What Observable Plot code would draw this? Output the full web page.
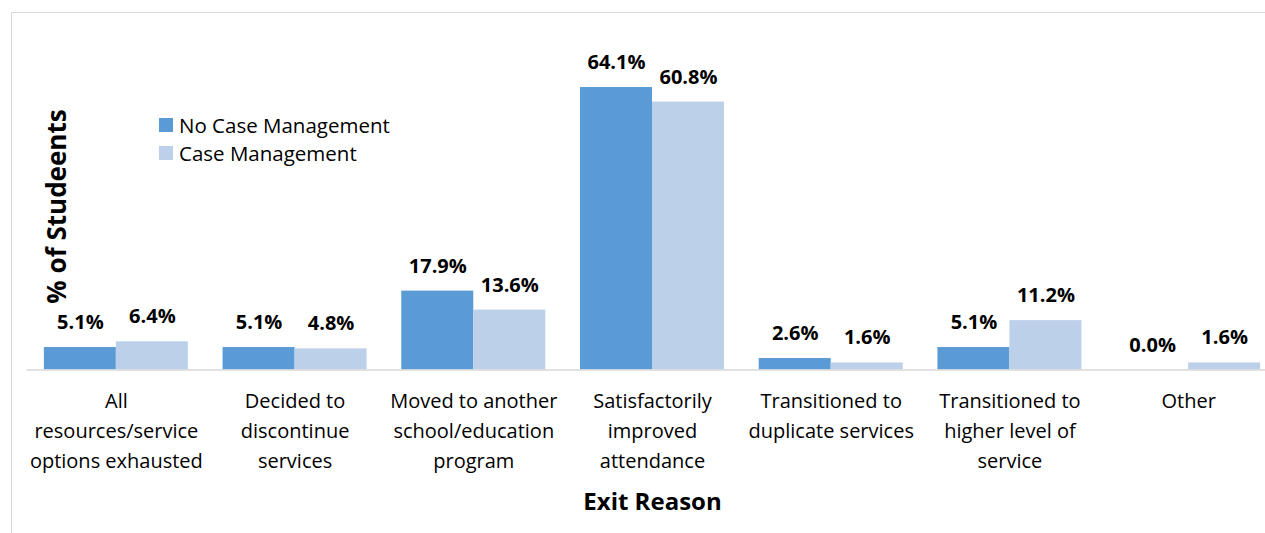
<!DOCTYPE html>
<html>
<head>
<meta charset="utf-8">
<script src="https://cdn.jsdelivr.net/npm/d3@7"></script>
<script src="https://cdn.jsdelivr.net/npm/@observablehq/plot@0.6"></script>
<style>
  html, body { margin: 0; padding: 0; background: white; overflow: hidden; }
  #wrap { position: relative; width: 1265px; height: 533px; overflow: hidden; font-family: "Open Sans", sans-serif; }
  #wrap svg { max-width: none !important; display: block; }
  #frame { position: absolute; left: 10.5px; top: 11.5px; width: 1400px; height: 800px; border: 1.5px solid #d9d9d9; pointer-events: none; }
  #legend { position: absolute; left: 159px; top: 111px; font-size: 20.5px; color: #000; }
  #legend .row { display: flex; align-items: center; height: 28px; }
  #legend .sw { width: 14px; height: 14px; margin-right: 6px; }
</style>
</head>
<body>
<div id="wrap"><div id="frame"></div><div id="legend"></div></div>
<script>
const categories = [
  "All resources/service options exhausted",
  "Decided to discontinue services",
  "Moved to another school/education program",
  "Satisfactorily improved attendance",
  "Transitioned to duplicate services",
  "Transitioned to higher level of service",
  "Other"
];
const tickLabels = [
  "All\nresources/service\noptions exhausted",
  "Decided to\ndiscontinue\nservices",
  "Moved to another\nschool/education\nprogram",
  "Satisfactorily\nimproved\nattendance",
  "Transitioned to\nduplicate services",
  "Transitioned to\nhigher level of\nservice",
  "Other"
];
const seriesNames = ["No Case Management", "Case Management"];
const seriesColors = ["#5b9bd5", "#bdd0e9"];
const noCaseManagement = [5.1, 5.1, 17.9, 64.1, 2.6, 5.1, 0.0];
const caseManagement = [6.4, 4.8, 13.6, 60.8, 1.6, 11.2, 1.6];
const yTitle = "% of Studeents";
const xTitle = "Exit Reason";

const rows = [];
categories.forEach((c, i) => {
  rows.push({category: c, series: seriesNames[0], value: noCaseManagement[i]});
  rows.push({category: c, series: seriesNames[1], value: caseManagement[i]});
});

const chart = Plot.plot({
  width: 1278,
  height: 533,
  marginLeft: 26.5,
  marginRight: 0.5,
  marginTop: 42.5,
  marginBottom: 163.5,
  style: {fontFamily: "'Open Sans', sans-serif", color: "#000", background: "transparent", overflow: "visible"},
  fx: {domain: categories, padding: 0, round: false},
  x: {domain: seriesNames, paddingInner: 0, paddingOuter: 0.241, round: false, axis: null},
  y: {domain: [0, 74.2], axis: null},
  color: {domain: seriesNames, range: seriesColors},
  marks: [
    Plot.barY(rows, {fx: "category", x: "series", y: "value", fill: "series"}),
    Plot.ruleY([0], {stroke: "#d9d9d9", strokeWidth: 1.5}),
    Plot.text(rows, {fx: "category", x: "series", y: "value",
      text: d => d.value.toFixed(1) + "%", lineAnchor: "bottom", dy: -18.5,
      fontWeight: "bold", fontSize: 20, fill: "#000"}),
    Plot.axisFx({anchor: "bottom", tickSize: 0, tickPadding: 17, fontSize: 20, lineHeight: 1.5,
      tickFormat: d => tickLabels[categories.indexOf(d)], label: null, fill: "#000"}),
    Plot.text([xTitle], {frameAnchor: "bottom", text: d => d, lineAnchor: "bottom", dy: 139.5,
      fontWeight: "bold", fontSize: 24, fill: "#000", facet: "super"}),
    Plot.text([yTitle], {frameAnchor: "left", text: d => d, rotate: -90, textAnchor: "middle",
      lineAnchor: "bottom", dx: 38.5, fontWeight: "bold", fontSize: 26, fill: "#000", facet: "super"})
  ]
});
document.getElementById("wrap").insertBefore(chart, document.getElementById("frame"));

const legend = document.getElementById("legend");
seriesNames.forEach((s, i) => {
  const row = document.createElement("div");
  row.className = "row";
  const sw = document.createElement("div");
  sw.className = "sw";
  sw.style.background = seriesColors[i];
  const t = document.createElement("span");
  t.textContent = s;
  row.appendChild(sw);
  row.appendChild(t);
  legend.appendChild(row);
});
</script>
</body>
</html>
